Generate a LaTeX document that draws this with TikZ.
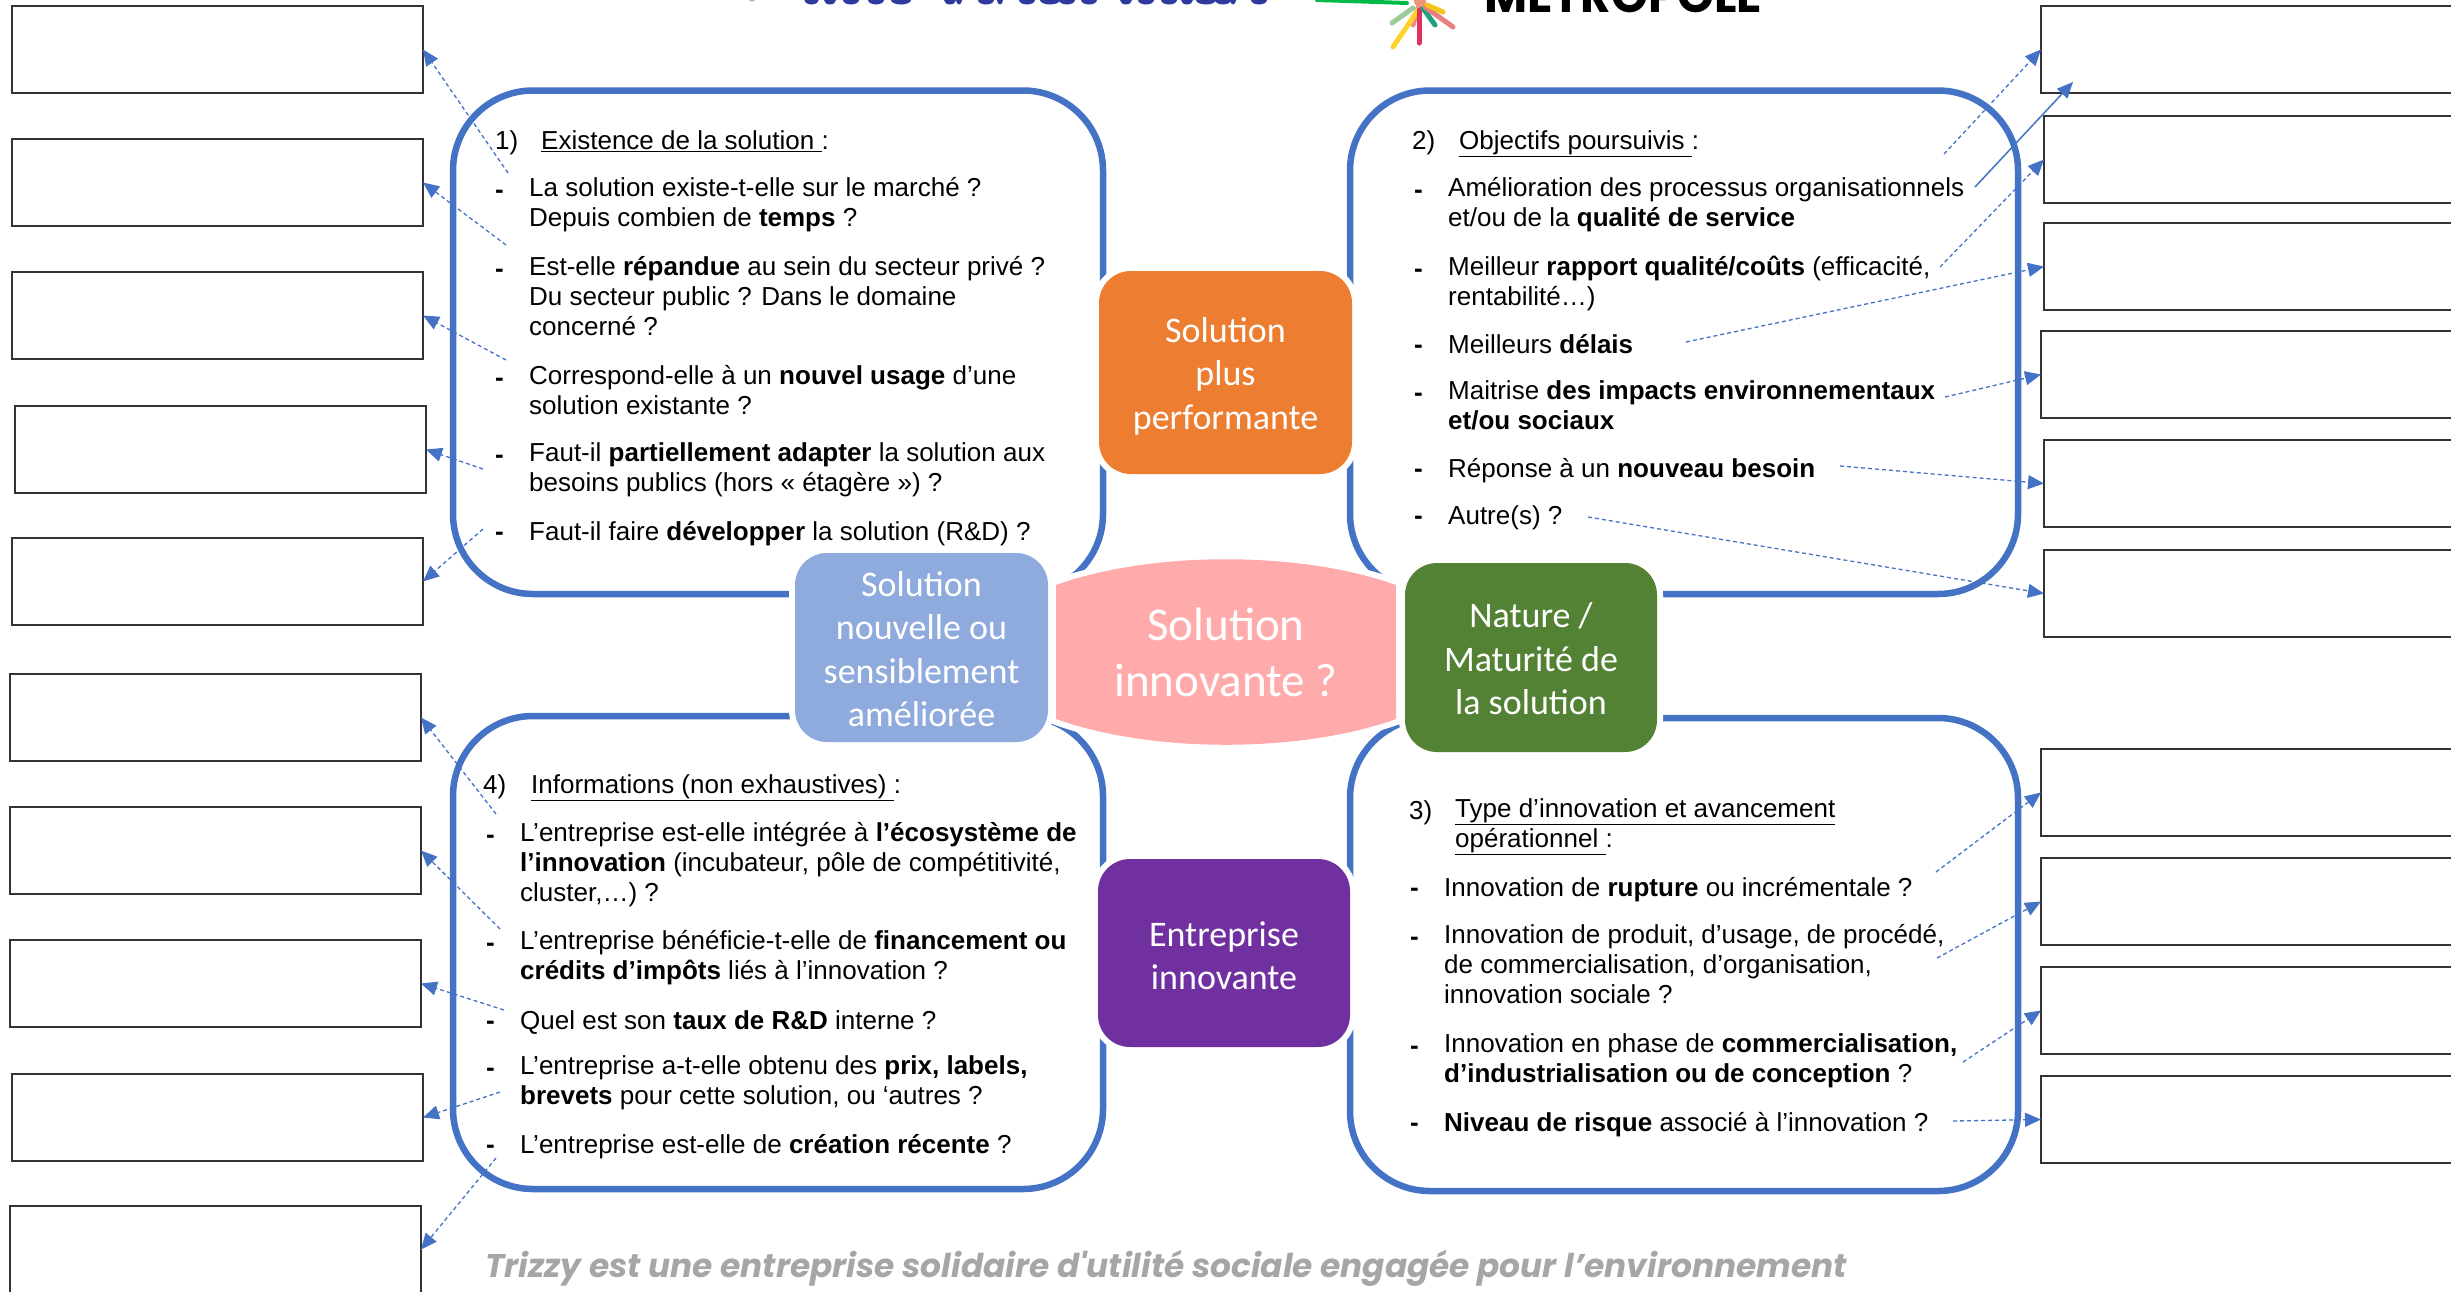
\documentclass[tikz,border=0pt]{standalone}
\usepackage{fontspec}
\setmainfont{Liberation Sans}
\newfontfamily\labelfont{Carlito}
\newfontfamily\footfont{Poppins}
\usetikzlibrary{arrows.meta}
\definecolor{panelblue}{HTML}{4472C4}
\definecolor{lblue}{HTML}{8FAADC}
\definecolor{lorange}{HTML}{ED7D31}
\definecolor{lgreen}{HTML}{548235}
\definecolor{lpurple}{HTML}{7030A0}
\definecolor{lpink}{HTML}{FFABAB}
\definecolor{footgrey}{HTML}{A6A6A6}
\definecolor{inkblue}{HTML}{2E3A9E}
\tikzset{
  x=1pt,y=-1pt,
  answerbox/.style={draw=black!80,line width=1.6pt,fill=white,rectangle,inner sep=0,outer sep=0,anchor=north west},
  panel/.style={draw=panelblue,line width=6.5pt,rounded corners=80pt},
  catnode/.style={rectangle,rounded corners=32pt,preaction={draw=white,line width=12pt},inner sep=0,outer sep=0,text=white,align=center,
     font=\labelfont\fontsize{36}{43.5}\selectfont,anchor=north west},
  qtext/.style={inner sep=0,anchor=north west,align=left,font=\fontsize{26}{30}\selectfont,execute at begin node=\strut},
  dashed link/.style={draw=panelblue,line width=1.3pt,dash pattern=on 4pt off 3pt,-{Triangle[length=16pt,width=14pt]}},
  solid link/.style={draw=panelblue,line width=1.5pt,-{Triangle[length=16pt,width=14pt]}},
  ray/.style={line width=5pt,line cap=round},
}
\newcommand{\qit}[4]{\node[qtext] (#1d) at (#2-34,#3-11) {\textbf{-}};\node[qtext] (#1) at (#2,#3-11) {#4};}
\begin{document}
\begin{tikzpicture}
\useasboundingbox (0,0) rectangle (2451,1291);
\clip (0,0) rectangle (2451,1291);
% header fragments: bottoms of cropped lettering
\fill[inkblue!40] (752,0) ellipse[x radius=3,y radius=1.5];
\foreach \cx/\rx in {811.5/7,830/6,851/8,876/8,901/10,950/6,959/3,986/8,1000/3,1027/8,1050/10,1067/8,1089/8,1126/6,1146/8,1169/8,1187/6,1206/10,1223/8,1233/3,1259/8}
  {\fill[inkblue] (\cx,0) ellipse[x radius=\rx,y radius=4.5];}
\node[inner sep=0,anchor=base west,font=\footfont\bfseries\fontsize{47}{47}\selectfont] (metro) at (1484,12) {METROPOLE};
\draw[line width=4pt,line cap=round,color=green!45!teal] (1317,0) -- (1407,3);
\draw[ray,color={rgb,255:red,156;green,203;blue,156}] (1392,23) -- (1413,8);
\draw[ray,color={rgb,255:red,240;green,138;blue,122}] (1413,25) -- (1418,8);
\draw[ray,color={rgb,255:red,255;green,212;blue,42}] (1393,47) -- (1418,10);
\draw[ray,color={rgb,255:red,224;green,49;blue,95}] (1419,43) -- (1419,10);
\draw[ray,color={rgb,255:red,31;green,160;blue,128}] (1435,25) -- (1422,7);
\draw[ray,color={rgb,255:red,232;green,128;blue,128}] (1453,27) -- (1425,7);
\draw[ray,color={rgb,255:red,245;green,197;blue,24}] (1443,12) -- (1427,5);
\fill[color={rgb,255:red,240;green,150;blue,120}] (1420,1) circle[radius=6];
% answer boxes left
\node[answerbox,minimum width=411pt,minimum height=87pt] (b1) at (12,6) {};
\node[answerbox,minimum width=411pt,minimum height=87pt] (b2) at (12,139) {};
\node[answerbox,minimum width=411pt,minimum height=87pt] (b3) at (12,272) {};
\node[answerbox,minimum width=411pt,minimum height=87pt] (b4) at (15,406) {};
\node[answerbox,minimum width=411pt,minimum height=87pt] (b5) at (12,538) {};
\node[answerbox,minimum width=411pt,minimum height=87pt] (b6) at (10,674) {};
\node[answerbox,minimum width=411pt,minimum height=87pt] (b7) at (10,807) {};
\node[answerbox,minimum width=411pt,minimum height=87pt] (b8) at (10,940) {};
\node[answerbox,minimum width=411pt,minimum height=87pt] (b9) at (12,1074) {};
\node[answerbox,minimum width=411pt,minimum height=87pt] (b10) at (10,1206) {};
% answer boxes right (run off the page)
\node[answerbox,minimum width=450pt,minimum height=87pt] (r1) at (2041,6) {};
\node[answerbox,minimum width=450pt,minimum height=87pt] (r2) at (2044,116) {};
\node[answerbox,minimum width=450pt,minimum height=87pt] (r3) at (2044,223) {};
\node[answerbox,minimum width=450pt,minimum height=87pt] (r4) at (2041,331) {};
\node[answerbox,minimum width=450pt,minimum height=87pt] (r5) at (2044,440) {};
\node[answerbox,minimum width=450pt,minimum height=87pt] (r6) at (2044,550) {};
\node[answerbox,minimum width=450pt,minimum height=87pt] (r7) at (2041,749) {};
\node[answerbox,minimum width=450pt,minimum height=87pt] (r8) at (2041,858) {};
\node[answerbox,minimum width=450pt,minimum height=87pt] (r9) at (2041,967) {};
\node[answerbox,minimum width=450pt,minimum height=87pt] (r10) at (2041,1076) {};
% panels
\draw[panel] (453,90.5) rectangle (1103,594);
\draw[panel] (1350,90.5) rectangle (2018,594);
\draw[panel] (453,716) rectangle (1103,1189);
\draw[panel] (1350,718) rectangle (2018,1191);
% centre lens
\draw[fill=lpink,draw=none,preaction={draw=white,line width=12pt}] (1056,585) arc[start angle=226.3,end angle=313.7,x radius=246,y radius=93] -- (1396,719) arc[start angle=46.3,end angle=133.7,x radius=246,y radius=93] -- cycle;
\node[inner sep=0,text=white,align=center,font=\labelfont\fontsize{47}{56}\selectfont] (centre) at (1226,652) {Solution\\innovante ?};
% category nodes
\node[catnode,fill=lorange,minimum width=253pt,minimum height=203pt] (orange) at (1099,271) {\rule{0pt}{32pt}Solution\\plus\\performante};
\node[catnode,fill=lblue,minimum width=253pt,minimum height=189pt] (nouvelle) at (795,553) {\rule{0pt}{28pt}Solution\\nouvelle ou\\sensiblement\\améliorée};
\node[catnode,fill=lgreen,minimum width=252pt,minimum height=189pt] (nature) at (1405,563) {\rule{0pt}{28pt}Nature /\\Maturité de\\la solution};
\node[catnode,fill=lpurple,minimum width=252pt,minimum height=188pt] (entreprise) at (1098,859) {\rule{0pt}{30pt}Entreprise\\innovante};
% panel 1
\node[qtext] (t1n) at (495,128.5) {1)};
\node[qtext] (t1) at (541,128.5) {\underline{Existence de la solution\ }:};
\qit{a1}{529}{188}{La solution existe-t-elle sur le marché ?\\Depuis combien de \textbf{temps} ?}
\qit{a2}{529}{267}{Est-elle \textbf{répandue} au sein du secteur privé ?\\Du secteur public ? Dans le domaine\\concerné ?}
\qit{a3}{529}{376}{Correspond-elle à un \textbf{nouvel usage} d’une\\solution existante ?}
\qit{a4}{529}{453}{Faut-il \textbf{partiellement adapter} la solution aux\\besoins publics (hors « étagère ») ?}
\qit{a5}{529}{530}{Faut-il faire \textbf{développer} la solution (R\&D) ?}
% panel 2
\node[qtext] (t2n) at (1412,128.5) {2)};
\node[qtext] (t2) at (1459,128.5) {\underline{Objectifs poursuivis\ }:};
\qit{c1}{1448}{188}{Amélioration des processus organisationnels\\et/ou de la \textbf{qualité de service}}
\qit{c2}{1448}{267}{Meilleur \textbf{rapport qualité/coûts} (efficacité,\\rentabilité…)}
\qit{c3}{1448}{343}{Meilleurs \textbf{délais}}
\qit{c4}{1448}{391}{Maitrise \textbf{des impacts environnementaux}\\\textbf{et/ou sociaux}}
\qit{c5}{1448}{467}{Réponse à un \textbf{nouveau besoin}}
\qit{c6}{1448}{514}{Autre(s) ?}
% panel 4
\node[qtext] (t4n) at (483,772) {4)};
\node[qtext] (t4) at (531,772) {\underline{Informations (non exhaustives)\ }:};
\qit{e1}{520}{833.5}{L’entreprise est-elle intégrée à \textbf{l’écosystème de}\\\textbf{l’innovation} (incubateur, pôle de compétitivité,\\cluster,…) ?}
\qit{e2}{520}{941}{L’entreprise bénéficie-t-elle de \textbf{financement ou}\\\textbf{crédits d’impôts} liés à l’innovation ?}
\qit{e3}{520}{1019}{Quel est son \textbf{taux de R\&D} interne ?}
\qit{e4}{520}{1066}{L’entreprise a-t-elle obtenu des \textbf{prix, labels,}\\\textbf{brevets} pour cette solution, ou ‘autres ?}
\qit{e5}{520}{1143}{L’entreprise est-elle de \textbf{création récente} ?}
% panel 3
\node[qtext] (t3n) at (1409,798) {3)};
\node[qtext] (t3) at (1455,798) {\underline{Type d’innovation et avancement}\\\underline{opérationnel\ }:};
\qit{g1}{1444}{886}{Innovation de \textbf{rupture} ou incrémentale ?}
\qit{g2}{1444}{935}{Innovation de produit, d’usage, de procédé,\\de commercialisation, d’organisation,\\innovation sociale ?}
\qit{g3}{1444}{1044}{Innovation en phase de \textbf{commercialisation,}\\\textbf{d’industrialisation ou de conception} ?}
\qit{g4}{1444}{1121}{\textbf{Niveau de risque} associé à l’innovation ?}
% footer
\node[inner sep=0,text=footgrey,font=\footfont\bfseries\itshape\fontsize{32.8}{38}\selectfont] (foot) at (1166,1268.5) {Trizzy est une entreprise solidaire d'utilité sociale engagée pour l’environnement};
% link start points
\coordinate (sa1) at (508,173);\coordinate (sa2) at (506,245);\coordinate (sa3) at (506,360);\coordinate (sa4) at (483,469);\coordinate (sa5) at (483,529);
\coordinate (sa6) at (496,814);\coordinate (sa7) at (500,929);\coordinate (sa8) at (504,1010);\coordinate (sa9) at (500,1092);\coordinate (sa10) at (496,1158);
\coordinate (sr1) at (1944,154);\coordinate (sr2) at (1940,267);\coordinate (sr3) at (1686,342);\coordinate (sr4) at (1945,397);\coordinate (sr5) at (1840,466);\coordinate (sr6) at (1588,517);
\coordinate (sr7) at (1936,872);\coordinate (sr8) at (1937,958);\coordinate (sr9) at (1963,1062);\coordinate (sr10) at (1953,1121);
\coordinate (ss) at (1975,187);\coordinate (se) at (2073,82);
\foreach \i in {1,...,10} {\draw[dashed link] (sa\i) -- (b\i.east);}
\foreach \i in {1,...,10} {\draw[dashed link] (sr\i) -- (r\i.west);}
\draw[solid link] (ss) -- (se);
\end{tikzpicture}
\end{document}
